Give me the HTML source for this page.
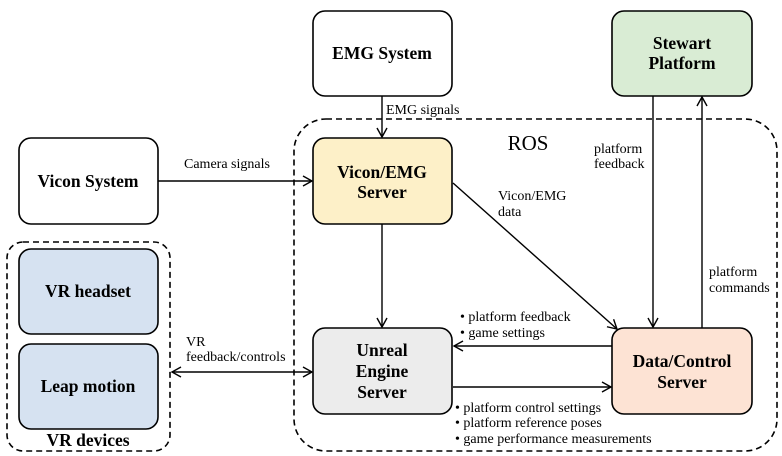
<!DOCTYPE html>
<html><head><style>
body{margin:0;background:#fff}
svg{display:block}
.b{font-family:"Liberation Serif",serif;font-weight:bold;font-size:17.5px;text-anchor:middle}
.l{font-family:"Liberation Serif",serif;font-size:14px}
</style></head><body>
<svg width="782" height="456" viewBox="0 0 782 456">
<defs><marker id="a" markerWidth="12" markerHeight="12" refX="10" refY="6" orient="auto" markerUnits="userSpaceOnUse"><path d="M1,1 L10,6 L1,11" fill="none" stroke="#000" stroke-width="1.4"/></marker></defs>
<g stroke="#000" stroke-width="1.6" stroke-dasharray="6,4" fill="none">
<rect x="294" y="119" width="483" height="332" rx="32"/>
<rect x="7" y="242" width="163" height="209" rx="16"/>
</g>
<g stroke="#000" stroke-width="1.6">
<rect x="313" y="11" width="139" height="85" rx="12" fill="#fff"/>
<rect x="612" y="11" width="140" height="85" rx="12" fill="#d9ecd4"/>
<rect x="19" y="138" width="139" height="86" rx="12" fill="#fff"/>
<rect x="313" y="138" width="139" height="86" rx="12" fill="#fdf0c8"/>
<rect x="313" y="328" width="139" height="86" rx="12" fill="#ececec"/>
<rect x="612" y="328" width="140" height="86" rx="12" fill="#fde3d4"/>
<rect x="19" y="249" width="139" height="85" rx="12" fill="#d6e2f1"/>
<rect x="19" y="344" width="139" height="85" rx="12" fill="#d6e2f1"/>
</g>
<g stroke="#000" stroke-width="1.4" fill="none" marker-end="url(#a)">
<line x1="382" y1="96" x2="382" y2="137"/>
<line x1="158" y1="181" x2="312" y2="181"/>
<line x1="382" y1="224" x2="382" y2="327"/>
<line x1="453" y1="183" x2="617" y2="329"/>
<line x1="653" y1="96" x2="653" y2="327"/>
<line x1="702" y1="328" x2="702" y2="97"/>
<line x1="612" y1="346" x2="454" y2="346"/>
<line x1="453" y1="387" x2="611" y2="387"/>
<line x1="190" y1="372" x2="312" y2="372"/>
<line x1="190" y1="372" x2="172" y2="372"/>
</g>
<text class="b" x="682" y="49">Stewart</text><text class="b" x="682" y="69">Platform</text>
<text class="b" x="382" y="59">EMG System</text>
<text class="b" x="88" y="187">Vicon System</text>
<text class="b" x="382" y="178">Vicon/EMG</text><text class="b" x="382" y="198">Server</text>
<text class="b" x="382" y="356">Unreal</text><text class="b" x="382" y="377">Engine</text><text class="b" x="382" y="398">Server</text>
<text class="b" x="682" y="367">Data/Control</text><text class="b" x="682" y="388">Server</text>
<text class="b" x="88" y="297">VR headset</text>
<text class="b" x="88" y="392">Leap motion</text>
<text class="b" x="88" y="446">VR devices</text>
<text x="528" y="150" font-family="Liberation Serif,serif" font-size="21" text-anchor="middle">ROS</text>
<g class="l">
<text x="386" y="114">EMG signals</text>
<text x="184" y="168">Camera signals</text>
<text x="498" y="200">Vicon/EMG</text><text x="498" y="216">data</text>
<text x="594" y="153">platform</text><text x="594" y="168">feedback</text>
<text x="709" y="276">platform</text><text x="709" y="292">commands</text>
<text x="460" y="321">•  platform feedback</text><text x="460" y="337">•  game settings</text>
<text x="186" y="346">VR</text><text x="186" y="361">feedback/controls</text>
<text x="455" y="412">•  platform control settings</text>
<text x="455" y="427">•  platform reference poses</text>
<text x="455" y="443">•  game performance measurements</text>
</g>
</svg>
</body></html>
